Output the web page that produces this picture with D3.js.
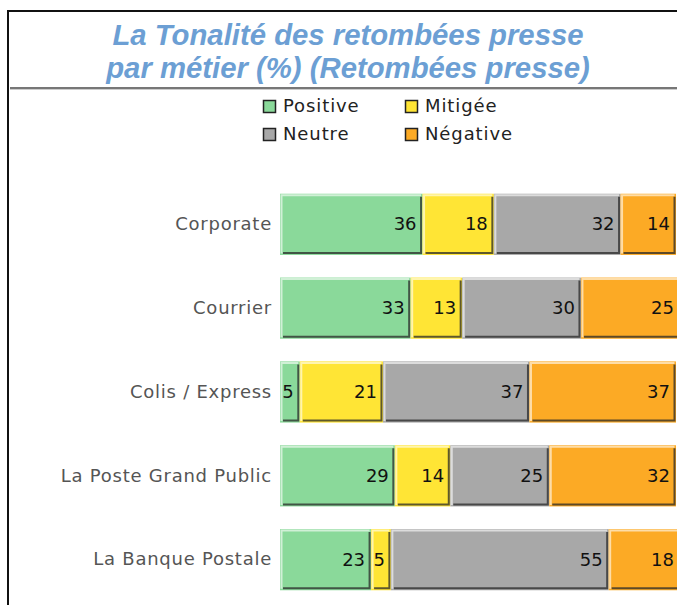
<!DOCTYPE html>
<html>
<head>
<meta charset="utf-8">
<script src="https://cdn.jsdelivr.net/npm/d3@7"></script>
<style>
  body { margin: 0; background: #fff; }
  svg { display: block; }
</style>
</head>
<body>
<svg id="drawing_region"></svg>
<script>
// data
const categories = ['Corporate', 'Courrier', 'Colis / Express', 'La Poste Grand Public', 'La Banque Postale'];
const series = ['Positive', 'Mitigée', 'Neutre', 'Négative'];
const positive = [36, 33, 5, 29, 23];
const mitigee  = [18, 13, 21, 14, 5];
const neutre   = [32, 30, 37, 25, 55];
const negative = [14, 25, 37, 32, 18];
const colors = ['#8ad99a', '#ffe535', '#a8a8a8', '#fcaa25'];

const width = 677, height = 605;
const font = 'DejaVu Sans, Verdana, sans-serif';
const svg = d3.select('#drawing_region')
    .attr('width', width)
    .attr('height', height);

// frame
svg.append('path')
    .attr('d', `M8,${height} V11 H${width}`)
    .attr('fill', 'none')
    .attr('stroke', '#111')
    .attr('stroke-width', 2);

// title
const title = svg.append('text')
    .attr('text-anchor', 'middle')
    .attr('fill', '#6c9fd4')
    .attr('font-family', 'Liberation Sans, Arial, sans-serif')
    .attr('font-size', 29.3)
    .attr('font-weight', 'bold')
    .attr('font-style', 'italic');
title.append('tspan').attr('x', 348).attr('y', 45).text('La Tonalité des retombées presse');
title.append('tspan').attr('x', 348).attr('y', 78).text('par métier (%) (Retombées presse)');

svg.append('line')
    .attr('x1', 10).attr('x2', width).attr('y1', 88).attr('y2', 88)
    .attr('stroke', '#777').attr('stroke-width', 2);
svg.append('line')
    .attr('x1', 10).attr('x2', width).attr('y1', 89.5).attr('y2', 89.5)
    .attr('stroke', '#ccc').attr('stroke-width', 1);

// legend
const legendPos = [[263, 106], [405, 106], [263, 134], [405, 134]];
const legendOrder = [0, 1, 2, 3];
const legend = svg.append('g').selectAll('g')
    .data(legendOrder)
    .join('g')
    .attr('transform', (d, i) => `translate(${legendPos[i][0]}, ${legendPos[i][1]})`);
legend.append('rect')
    .attr('x', 0.5).attr('y', -5.5)
    .attr('width', 12).attr('height', 12)
    .attr('fill', d => colors[d])
    .attr('stroke', '#222').attr('stroke-width', 1.5);
legend.append('text')
    .attr('x', 20).attr('y', 6)
    .attr('font-family', font)
    .attr('font-size', 18)
    .attr('letter-spacing', 0.9)
    .attr('fill', '#222')
    .text(d => series[d]);

// scales
const xscale = d3.scaleLinear().domain([0, 100]).range([280, 676]);
const yscale = d3.scaleBand().domain(categories).range([182, 602]).paddingInner(0.27).paddingOuter(0.14);

const stacked = d3.stack().keys(d3.range(4))(categories.map((c, i) => {
    const row = [positive[i], mitigee[i], neutre[i], negative[i]];
    return Object.assign({}, row);
}));

const yaxis = d3.axisLeft(yscale).tickSize(0).tickPadding(8);
svg.append('g')
    .attr('transform', `translate(${xscale(0)}, 0)`)
    .call(yaxis)
    .call(g => g.select('.domain').remove())
    .call(g => g.selectAll('text')
        .attr('font-family', font)
        .attr('font-size', 18)
        .attr('letter-spacing', 0.75)
        .attr('fill', '#555'));

const layers = svg.append('g').selectAll('g')
    .data(stacked)
    .join('g');

const seg = layers.selectAll('g')
    .data((layer, k) => layer.map((d, i) => ({ k, i, x0: d[0], x1: d[1] })))
    .join('g');

seg.append('rect')
    .attr('x', d => xscale(d.x0))
    .attr('y', d => yscale(categories[d.i]))
    .attr('width', d => xscale(d.x1) - xscale(d.x0))
    .attr('height', yscale.bandwidth())
    .attr('fill', d => colors[d.k]);

// bevel: light top/left, dark bottom/right
seg.append('path')
    .attr('d', d => {
        const x0 = xscale(d.x0) + 1.5, x1 = xscale(d.x1) - 1.5;
        const y0 = yscale(categories[d.i]) + 1.5, y1 = y0 + yscale.bandwidth() - 3;
        return `M${x0},${y1} V${y0} H${x1}`;
    })
    .attr('fill', 'none')
    .attr('stroke', 'rgba(255,255,255,0.6)')
    .attr('stroke-width', 2);
seg.append('path')
    .attr('d', d => {
        const x0 = xscale(d.x0) + 3, x1 = xscale(d.x1) - 1.5;
        const y0 = yscale(categories[d.i]) + 3, y1 = yscale(categories[d.i]) + yscale.bandwidth() - 2;
        return `M${x0},${y1} H${x1} V${y0}`;
    })
    .attr('fill', 'none')
    .attr('stroke', 'rgba(40,40,40,0.75)')
    .attr('stroke-width', 2);

seg.append('text')
    .attr('x', d => xscale(d.x1) - 6)
    .attr('y', d => yscale(categories[d.i]) + yscale.bandwidth() / 2 + 6)
    .attr('text-anchor', 'end')
    .attr('font-family', font)
    .attr('font-size', 18)
    .attr('fill', '#111')
    .text(d => d.x1 - d.x0);
</script>
</body>
</html>
